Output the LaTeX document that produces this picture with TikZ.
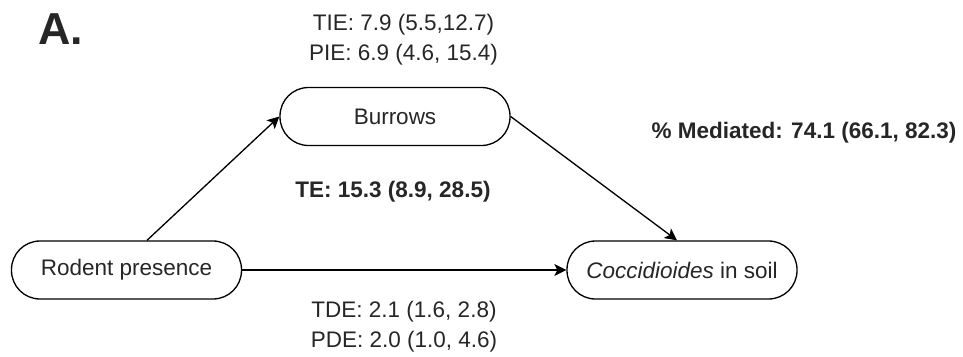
\documentclass[tikz,border=0pt]{standalone}
\usepackage{fontspec}
\setmainfont{Liberation Sans}
\usetikzlibrary{arrows.meta}

\tikzset{
  varbox/.style={draw,line width=0.75pt,rounded corners=0.57cm,minimum width=4.6cm,minimum height=1.16cm,inner sep=0pt,font=\fontsize{12.8}{17}\selectfont},
  estimate/.style={draw=none,align=center,font=\fontsize{12.8}{17}\selectfont},
  effect/.style={line width=0.75pt,-{Stealth[length=0.24cm,width=0.24cm,inset=0.06cm]}}
}

\begin{document}
\begin{tikzpicture}[text=black!85]
  \useasboundingbox (0,0) rectangle (19.26,7.12);

  %panel
  \node[draw=none,font=\fontsize{25.5}{30}\selectfont] (panel) at (1.21,6.54) {\bf{A.}};

  %variables
  \node[varbox] (burrows) at (7.90,4.79) {Burrows};
  \node[varbox] (rodent) at (2.53,1.72) {Rodent presence};
  \node[varbox] (cocci) at (13.64,1.72) {\textit{Coccidioides} in soil};

  %paths
  \draw[effect] ([xshift=0.41cm]rodent.north) -- (burrows.west);
  \draw[effect] (burrows.east) -- ([xshift=-0.1cm]cocci.north);
  \draw[effect] (rodent.east) -- (cocci.west);

  %estimates
  \node[estimate] (indirect) at (8.07,6.32) {TIE: 7.9 (5.5,12.7)\\PIE: 6.9 (4.6, 15.4)};
  \node[estimate] (total) at (7.86,3.28) {\bf{TE: 15.3 (8.9, 28.5)}};
  \node[estimate] (mediated) at (16.08,4.46) {\bf{\% Mediated: 74.1 (66.1, 82.3)}};
  \node[estimate] (direct) at (8.08,0.59) {TDE: 2.1 (1.6, 2.8)\\PDE: 2.0 (1.0, 4.6)};

\end{tikzpicture}
\end{document}
